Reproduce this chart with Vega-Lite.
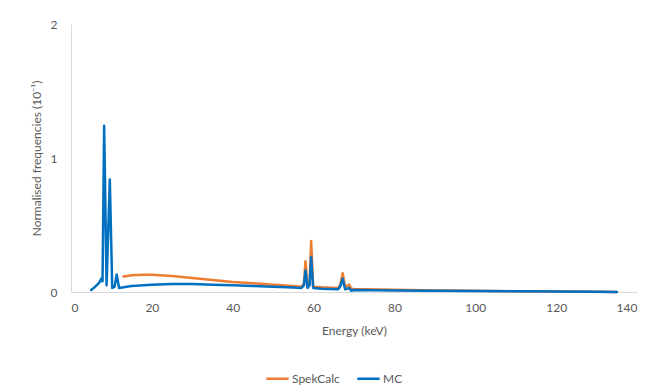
{
  "$schema": "https://vega.github.io/schema/vega-lite/v6.json",
  "width": 566,
  "height": 268,
  "autosize": {"type": "none"},
  "padding": {"left": 71, "top": 24, "right": 24, "bottom": 100},
  "background": "white",
  "config": {
    "view": {"stroke": null},
    "font": "Lato",
    "axis": {
      "labelFont": "Lato", "titleFont": "Lato",
      "labelColor": "#595959", "titleColor": "#595959",
      "labelFontSize": 12, "titleFontSize": 12, "titleFontWeight": "normal",
      "grid": false, "ticks": false, "domainColor": "#d9d9d9", "domainWidth": 1
    },
    "legend": {"labelFont": "Lato", "labelColor": "#595959", "labelFontSize": 12}
  },
  "data": {
    "values": [
      {"series": "SpekCalc", "e": 13, "f": 0.115},
      {"series": "SpekCalc", "e": 15, "f": 0.125},
      {"series": "SpekCalc", "e": 18, "f": 0.128},
      {"series": "SpekCalc", "e": 20, "f": 0.128},
      {"series": "SpekCalc", "e": 25, "f": 0.12},
      {"series": "SpekCalc", "e": 30, "f": 0.105},
      {"series": "SpekCalc", "e": 35, "f": 0.09},
      {"series": "SpekCalc", "e": 40, "f": 0.075},
      {"series": "SpekCalc", "e": 45, "f": 0.065},
      {"series": "SpekCalc", "e": 50, "f": 0.055},
      {"series": "SpekCalc", "e": 55, "f": 0.045},
      {"series": "SpekCalc", "e": 57, "f": 0.04},
      {"series": "SpekCalc", "e": 57.6, "f": 0.06},
      {"series": "SpekCalc", "e": 58, "f": 0.23},
      {"series": "SpekCalc", "e": 58.5, "f": 0.04},
      {"series": "SpekCalc", "e": 59, "f": 0.06},
      {"series": "SpekCalc", "e": 59.4, "f": 0.38},
      {"series": "SpekCalc", "e": 59.9, "f": 0.04},
      {"series": "SpekCalc", "e": 62, "f": 0.035},
      {"series": "SpekCalc", "e": 66, "f": 0.03},
      {"series": "SpekCalc", "e": 66.6, "f": 0.05},
      {"series": "SpekCalc", "e": 67.2, "f": 0.14},
      {"series": "SpekCalc", "e": 67.8, "f": 0.035},
      {"series": "SpekCalc", "e": 68.8, "f": 0.055},
      {"series": "SpekCalc", "e": 69.3, "f": 0.025},
      {"series": "SpekCalc", "e": 70, "f": 0.022},
      {"series": "SpekCalc", "e": 80, "f": 0.016},
      {"series": "SpekCalc", "e": 90, "f": 0.012},
      {"series": "SpekCalc", "e": 100, "f": 0.009},
      {"series": "SpekCalc", "e": 110, "f": 0.006},
      {"series": "SpekCalc", "e": 120, "f": 0.004},
      {"series": "SpekCalc", "e": 130, "f": 0.001},
      {"series": "SpekCalc", "e": 135, "f": 0},
      {"series": "MC", "e": 5, "f": 0.015},
      {"series": "MC", "e": 6, "f": 0.04},
      {"series": "MC", "e": 7, "f": 0.07},
      {"series": "MC", "e": 7.5, "f": 0.1},
      {"series": "MC", "e": 7.8, "f": 0.08},
      {"series": "MC", "e": 8.2, "f": 1.24},
      {"series": "MC", "e": 8.8, "f": 0.05},
      {"series": "MC", "e": 9.6, "f": 0.84},
      {"series": "MC", "e": 10.2, "f": 0.03},
      {"series": "MC", "e": 10.8, "f": 0.04},
      {"series": "MC", "e": 11.3, "f": 0.13},
      {"series": "MC", "e": 11.9, "f": 0.03},
      {"series": "MC", "e": 13, "f": 0.035},
      {"series": "MC", "e": 15, "f": 0.045},
      {"series": "MC", "e": 20, "f": 0.055},
      {"series": "MC", "e": 25, "f": 0.06},
      {"series": "MC", "e": 30, "f": 0.06},
      {"series": "MC", "e": 35, "f": 0.055},
      {"series": "MC", "e": 40, "f": 0.05},
      {"series": "MC", "e": 45, "f": 0.045},
      {"series": "MC", "e": 50, "f": 0.04},
      {"series": "MC", "e": 55, "f": 0.033},
      {"series": "MC", "e": 57, "f": 0.03},
      {"series": "MC", "e": 57.6, "f": 0.05},
      {"series": "MC", "e": 58, "f": 0.16},
      {"series": "MC", "e": 58.5, "f": 0.03},
      {"series": "MC", "e": 59, "f": 0.05},
      {"series": "MC", "e": 59.4, "f": 0.26},
      {"series": "MC", "e": 59.9, "f": 0.03},
      {"series": "MC", "e": 62, "f": 0.025},
      {"series": "MC", "e": 66, "f": 0.02},
      {"series": "MC", "e": 66.6, "f": 0.04},
      {"series": "MC", "e": 67.2, "f": 0.1},
      {"series": "MC", "e": 67.8, "f": 0.02},
      {"series": "MC", "e": 68.8, "f": 0.03},
      {"series": "MC", "e": 69.3, "f": 0.01},
      {"series": "MC", "e": 70, "f": 0.015},
      {"series": "MC", "e": 80, "f": 0.012},
      {"series": "MC", "e": 90, "f": 0.009},
      {"series": "MC", "e": 100, "f": 0.007},
      {"series": "MC", "e": 110, "f": 0.005},
      {"series": "MC", "e": 120, "f": 0.003},
      {"series": "MC", "e": 130, "f": 0.001},
      {"series": "MC", "e": 135, "f": 0}
    ]
  },
  "mark": {"type": "line", "strokeWidth": 2.5, "strokeJoin": "round", "strokeCap": "round"},
  "encoding": {
    "x": {
      "field": "e", "type": "quantitative",
      "scale": {"domain": [0, 140], "nice": false},
      "axis": {"values": [0, 20, 40, 60, 80, 100, 120, 140], "title": "Energy (keV)", "labelPadding": 10, "titlePadding": 12}
    },
    "y": {
      "field": "f", "type": "quantitative",
      "scale": {"domain": [0, 2], "nice": false},
      "axis": {"values": [0, 1, 2], "labelExpr": "datum.value == 0 ? '0' : datum.value == 1 ? '1' : '2'", "labelOverlap": false, "labelFlush": false, "title": "Normalised frequencies (10⁻¹)", "labelPadding": 14, "titlePadding": 7}
    },
    "color": {
      "field": "series", "type": "nominal",
      "scale": {"domain": ["SpekCalc", "MC"], "range": ["#ED7D31", "#0070C0"]},
      "legend": {
        "title": null, "orient": "none", "direction": "horizontal",
        "legendX": 194, "legendY": 342,
        "symbolType": "stroke", "symbolSize": 500, "symbolStrokeWidth": 2.5,
        "labelOffset": 2, "columnPadding": 12
      }
    }
  }
}
